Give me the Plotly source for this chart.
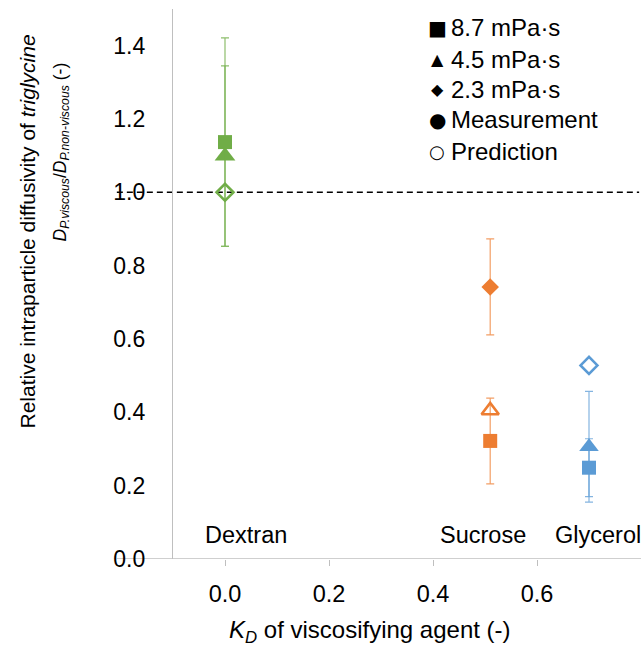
import plotly.graph_objects as go

# ---------------- data ----------------
agents = ["Dextran", "Sucrose", "Glycerol"]
kd = [0.0, 0.51, 0.70]
colors = ["#70AD47", "#ED7D31", "#5B9BD5"]
err_colors = ["rgba(112,173,71,0.8)", "rgba(237,125,49,0.75)", "rgba(91,155,213,0.75)"]

# measurements (mean, error)
meas_87 = [1.137, 0.322, 0.249]
err_87 = [0.284, 0.117, 0.079]
meas_45 = [1.099, None, 0.306]
err_45 = [0.246, None, 0.151]
meas_23 = [None, 0.742, None]
err_23 = [None, 0.131, None]
# predictions
pred_45 = [None, 0.405, None]
pred_23 = [1.0, None, 0.528]

xticks = [0.0, 0.2, 0.4, 0.6]
xticktext = ["0.0", "0.2", "0.4", "0.6"]
yticks = [0.0, 0.2, 0.4, 0.6, 0.8, 1.0, 1.2, 1.4]
yticktext = ["0.0", "0.2", "0.4", "0.6", "0.8", "1.0", "1.2", "1.4"]

legend_glyphs = ["\u25A0", "\u25B2", "\u25C6", "\u25CF", "\u25CB"]
legend_labels = ["8.7 mPa·s", "4.5 mPa·s", "2.3 mPa·s", "Measurement", "Prediction"]

FONT = "Liberation Sans, Arial, sans-serif"

fig = go.Figure()

def add_point(i, val, err, symbol, size, open_=False):
    if val is None:
        return
    marker = dict(symbol=symbol, size=size, color=colors[i])
    if open_:
        marker = dict(symbol=symbol + "-open", size=size, color=colors[i],
                      line=dict(color=colors[i], width=2.6))
    else:
        marker["line"] = dict(width=0)
    kw = {}
    if err is not None:
        kw["error_y"] = dict(type="data", array=[err], visible=True,
                             color=err_colors[i], thickness=1.2, width=4)
    fig.add_trace(go.Scatter(x=[kd[i]], y=[val], mode="markers", marker=marker,
                             showlegend=False, cliponaxis=False, **kw))

for i in range(len(agents)):
    add_point(i, meas_45[i], err_45[i], "triangle-up", 18 if i == 0 else 17)
    add_point(i, meas_87[i], err_87[i], "square", 14)
    add_point(i, meas_23[i], err_23[i], "diamond", 13.5)
    add_point(i, pred_45[i], None, "triangle-up", 15, open_=True)
    add_point(i, pred_23[i], None, "diamond", 13, open_=True)

# reference lines
shapes = [
    dict(type="line", xref="paper", yref="y", x0=-0.12, x1=0.996, y0=1.0, y1=1.0,
         line=dict(color="black", width=1.5, dash="6px,4px"), layer="below"),
    dict(type="line", xref="paper", yref="y", x0=-0.12, x1=1.0, y0=0.0, y1=0.0,
         line=dict(color="#BFBFBF", width=1.3), layer="below"),
]

annotations = []
# category labels
cat_x = [-0.043, 0.409, 0.630]
for i, name in enumerate(agents):
    annotations.append(dict(x=cat_x[i], y=0.065, xref="x", yref="y", text=name,
                            showarrow=False, xanchor="left", yanchor="middle",
                            font=dict(size=23.5, color="black", family=FONT)))

# legend (glyph + label)
leg_y = [28, 60, 90, 120, 152]
glyph_sizes = [20, 16, 16, 20, 18]
for g, lab, py, gs in zip(legend_glyphs, legend_labels, leg_y, glyph_sizes):
    yp = (559.5 - py) / 550
    annotations.append(dict(x=(437 - 173) / 468, y=yp, xref="paper", yref="paper", text=g,
                            showarrow=False, xanchor="center", yanchor="middle",
                            font=dict(size=gs, color="black", family="DejaVu Sans")))
    annotations.append(dict(x=(449 - 173) / 468, y=yp, xref="paper", yref="paper", text=lab,
                            showarrow=False, xanchor="left", yanchor="middle",
                            font=dict(size=24, color="black", family=FONT)))

# axis titles
annotations.append(dict(x=(27 - 173) / 468, y=(559.5 - 232) / 550, xref="paper", yref="paper",
                        text="Relative intraparticle diffusivity of <i>triglycine</i>",
                        textangle=-90, showarrow=False, xanchor="center", yanchor="middle",
                        font=dict(size=21, color="black", family=FONT)))
annotations.append(dict(x=(61 - 173) / 468, y=(559.5 - 153) / 550, xref="paper", yref="paper",
                        text="<i>D</i><sub><i>P.viscous</i></sub>/<i>D</i><sub><i>P.non-viscous</i></sub> (-)",
                        textangle=-90, showarrow=False, xanchor="center", yanchor="middle",
                        font=dict(size=17.5, color="black", family=FONT)))
annotations.append(dict(x=(370 - 173) / 468, y=(559.5 - 632) / 550, xref="paper", yref="paper",
                        text="<i>K</i><sub><i>D</i></sub> of viscosifying agent (-)",
                        showarrow=False, xanchor="center", yanchor="middle",
                        font=dict(size=24, color="black", family=FONT)))

fig.update_layout(
    width=644, height=648,
    margin=dict(l=173, r=3, t=9, b=89),
    plot_bgcolor="white", paper_bgcolor="white",
    showlegend=False,
    font=dict(family=FONT, size=23, color="black"),
    shapes=shapes,
    annotations=annotations,
    xaxis=dict(range=[-0.1, 0.8], tickvals=xticks, ticktext=xticktext,
               ticks="outside", ticklen=6, tickcolor="#BFBFBF", tickwidth=1.3,
               ticklabelstandoff=8, showline=False, showgrid=False, zeroline=False,
               tickfont=dict(size=23.5, color="black", family=FONT)),
    yaxis=dict(range=[0, 1.5], tickvals=yticks, ticktext=yticktext,
               ticks="", ticklabelstandoff=22, showline=True, linecolor="#BFBFBF",
               linewidth=1.3, showgrid=False, zeroline=False,
               tickfont=dict(size=23, color="black", family=FONT)),
)

fig.write_html("out.html")
